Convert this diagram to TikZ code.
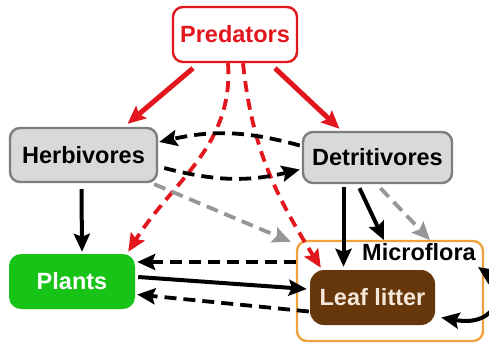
\documentclass[tikz,border=0pt]{standalone}
\usepackage{fontspec}
\setmainfont{Liberation Sans}
\usetikzlibrary{arrows.meta}
\definecolor{predred}{RGB}{226,22,28}
\definecolor{boxgray}{RGB}{217,217,217}
\definecolor{edgegray}{RGB}{125,125,125}
\definecolor{flowgray}{RGB}{150,150,150}
\definecolor{plantgreen}{RGB}{22,195,22}
\definecolor{litterbrown}{RGB}{102,55,10}
\definecolor{floraorange}{RGB}{240,162,62}
\definecolor{littertext}{RGB}{245,232,218}
\tikzset{
  label font/.style={font=\bfseries\fontsize{23.5}{27}\selectfont},
  pool/.style={label font, rounded corners=10pt, line width=2.4pt, align=center, inner sep=0pt},
  tip/.style={-{Stealth[length=18pt,width=16pt,inset=3pt]}},
  redflow/.style={tip, draw=predred, line width=5pt},
  reddash/.style={tip, draw=predred, line width=3.8pt, dash pattern=on 11pt off 7pt},
  blackflow/.style={tip, draw=black, line width=4pt},
  blackdash/.style={tip, draw=black, line width=3.8pt, dash pattern=on 12pt off 7pt},
  graydash/.style={tip, draw=flowgray, line width=3.8pt, dash pattern=on 12pt off 7pt},
}
\begin{document}
\begin{tikzpicture}[x=1pt,y=-1pt]
\useasboundingbox[fill=white] (0,0) rectangle (489,345);

% compartments
\node[pool, draw=predred, fill=white, text=predred, minimum width=124pt, minimum height=55pt]
  (pred) at (235,34.5) {Predators};
\node[pool, draw=edgegray, fill=boxgray, minimum width=147pt, minimum height=54pt]
  (herb) at (83.5,155) {Herbivores};
\node[pool, draw=edgegray, fill=boxgray, minimum width=149pt, minimum height=51pt]
  (detr) at (377.5,157.5) {Detritivores};
\node[pool, draw=none, fill=plantgreen, text=white, rounded corners=12pt, minimum width=126pt, minimum height=55pt]
  (plants) at (72,281.5) {Plants};
\node[draw=floraorange, line width=2.4pt, rounded corners=10pt, minimum width=186pt, minimum height=100pt, inner sep=0pt]
  (micro) at (390,291) {};
\node[label font, inner sep=0pt] (microlabel) at (419,252) {Microflora};
\node[pool, draw=none, fill=litterbrown, text=littertext, rounded corners=14pt, minimum width=125pt, minimum height=55pt]
  (litter) at (372.5,297.5) {Leaf litter};

% predation
\draw[redflow] ([xshift=-42pt,yshift=-5pt]pred.south) -- ([xshift=44pt,yshift=3pt]herb.north);
\draw[redflow] ([xshift=40pt,yshift=-5pt]pred.south) -- ([xshift=-38pt,yshift=2pt]detr.north);
\draw[reddash] ([xshift=-7pt]pred.south) to[out=-86,in=58] ([xshift=-8pt,yshift=1pt]plants.north east);
\draw[reddash] ([xshift=8pt]pred.south) to[out=-84,in=122] ([xshift=12pt,yshift=1pt]litter.north west);

% exchanges between consumers
\draw[blackdash] ([xshift=-2pt,yshift=12pt]detr.west) to[bend right=14] ([xshift=1pt,yshift=13pt]herb.east);
\draw[blackdash] ([xshift=6pt,yshift=-13pt]herb.east) to[bend right=14] ([xshift=-2pt,yshift=-12pt]detr.west);
\draw[graydash] ([xshift=-4pt,yshift=-1pt]herb.south east) -- ([xshift=-5pt,yshift=-2pt]micro.north west);

% feeding and inputs
\draw[blackflow] ([xshift=-2pt,yshift=-6pt]herb.south) -- ([xshift=10pt,yshift=1pt]plants.north);
\draw[blackflow] ([xshift=-34pt,yshift=-3pt]detr.south) -- ([xshift=-29pt,yshift=2pt]litter.north);
\draw[blackflow] ([xshift=-18pt,yshift=-4pt]detr.south) -- ([xshift=-35pt,yshift=3pt]microlabel.north);
\draw[graydash] ([xshift=3pt,yshift=-4pt]detr.south) -- ([xshift=11pt,yshift=3pt]microlabel.north);

% plants and the soil pool
\draw[blackdash] ([yshift=29pt]micro.west) -- ([xshift=1pt,yshift=19.5pt]plants.east);
\draw[blackflow] ([xshift=2pt,yshift=4.5pt]plants.east) -- ([xshift=-2pt,yshift=8.5pt]litter.west);
\draw[blackdash] ([yshift=-14pt]litter.west) -- ([xshift=1pt,yshift=-13pt]plants.east);

% litter <-> microflora loop
\draw[line width=4pt, {Stealth[length=18pt,width=16pt,inset=3pt]}-{Stealth[length=18pt,width=16pt,inset=3pt]}]
  ([xshift=5pt,yshift=-20pt]litter.east) .. controls (500,328) and (506,286) .. ([xshift=2pt,yshift=-15pt]microlabel.east);
\end{tikzpicture}
\end{document}
